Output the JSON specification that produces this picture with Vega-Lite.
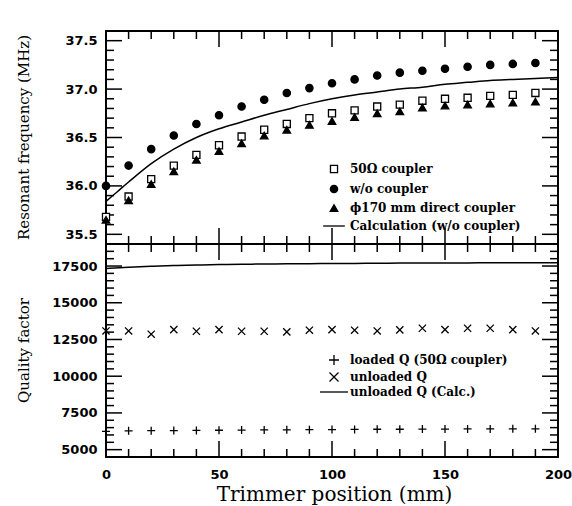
{
  "$schema": "https://vega.github.io/schema/vega-lite/v6.json",
  "padding": {"left": 14, "top": 30, "right": 12, "bottom": 5},
  "background": "white",
  "datasets": {
    "freq": [
      {"pos":0,"series":"50Ω coupler","f":35.68},{"pos":10,"series":"50Ω coupler","f":35.89},{"pos":20,"series":"50Ω coupler","f":36.07},{"pos":30,"series":"50Ω coupler","f":36.21},{"pos":40,"series":"50Ω coupler","f":36.32},{"pos":50,"series":"50Ω coupler","f":36.42},{"pos":60,"series":"50Ω coupler","f":36.51},{"pos":70,"series":"50Ω coupler","f":36.58},{"pos":80,"series":"50Ω coupler","f":36.64},{"pos":90,"series":"50Ω coupler","f":36.70},{"pos":100,"series":"50Ω coupler","f":36.75},{"pos":110,"series":"50Ω coupler","f":36.78},{"pos":120,"series":"50Ω coupler","f":36.82},{"pos":130,"series":"50Ω coupler","f":36.84},{"pos":140,"series":"50Ω coupler","f":36.88},{"pos":150,"series":"50Ω coupler","f":36.90},{"pos":160,"series":"50Ω coupler","f":36.91},{"pos":170,"series":"50Ω coupler","f":36.93},{"pos":180,"series":"50Ω coupler","f":36.94},{"pos":190,"series":"50Ω coupler","f":36.96},
      {"pos":0,"series":"w/o coupler","f":36.00},{"pos":10,"series":"w/o coupler","f":36.21},{"pos":20,"series":"w/o coupler","f":36.38},{"pos":30,"series":"w/o coupler","f":36.52},{"pos":40,"series":"w/o coupler","f":36.64},{"pos":50,"series":"w/o coupler","f":36.73},{"pos":60,"series":"w/o coupler","f":36.82},{"pos":70,"series":"w/o coupler","f":36.89},{"pos":80,"series":"w/o coupler","f":36.96},{"pos":90,"series":"w/o coupler","f":37.01},{"pos":100,"series":"w/o coupler","f":37.06},{"pos":110,"series":"w/o coupler","f":37.10},{"pos":120,"series":"w/o coupler","f":37.14},{"pos":130,"series":"w/o coupler","f":37.17},{"pos":140,"series":"w/o coupler","f":37.19},{"pos":150,"series":"w/o coupler","f":37.21},{"pos":160,"series":"w/o coupler","f":37.23},{"pos":170,"series":"w/o coupler","f":37.25},{"pos":180,"series":"w/o coupler","f":37.26},{"pos":190,"series":"w/o coupler","f":37.27},
      {"pos":0,"series":"ϕ170 mm direct coupler","f":35.65},{"pos":10,"series":"ϕ170 mm direct coupler","f":35.85},{"pos":20,"series":"ϕ170 mm direct coupler","f":36.02},{"pos":30,"series":"ϕ170 mm direct coupler","f":36.15},{"pos":40,"series":"ϕ170 mm direct coupler","f":36.27},{"pos":50,"series":"ϕ170 mm direct coupler","f":36.36},{"pos":60,"series":"ϕ170 mm direct coupler","f":36.44},{"pos":70,"series":"ϕ170 mm direct coupler","f":36.52},{"pos":80,"series":"ϕ170 mm direct coupler","f":36.58},{"pos":90,"series":"ϕ170 mm direct coupler","f":36.63},{"pos":100,"series":"ϕ170 mm direct coupler","f":36.67},{"pos":110,"series":"ϕ170 mm direct coupler","f":36.71},{"pos":120,"series":"ϕ170 mm direct coupler","f":36.75},{"pos":130,"series":"ϕ170 mm direct coupler","f":36.77},{"pos":140,"series":"ϕ170 mm direct coupler","f":36.81},{"pos":150,"series":"ϕ170 mm direct coupler","f":36.83},{"pos":160,"series":"ϕ170 mm direct coupler","f":36.84},{"pos":170,"series":"ϕ170 mm direct coupler","f":36.85},{"pos":180,"series":"ϕ170 mm direct coupler","f":36.86},{"pos":190,"series":"ϕ170 mm direct coupler","f":36.87}
    ],
    "calc_f": [
      {"pos":0,"f":35.84},{"pos":5,"f":35.94},{"pos":10,"f":36.04},{"pos":20,"f":36.23},{"pos":30,"f":36.38},{"pos":40,"f":36.50},{"pos":50,"f":36.59},{"pos":60,"f":36.66},{"pos":70,"f":36.73},{"pos":80,"f":36.79},{"pos":90,"f":36.85},{"pos":100,"f":36.90},{"pos":110,"f":36.94},{"pos":120,"f":36.97},{"pos":130,"f":37.00},{"pos":140,"f":37.02},{"pos":150,"f":37.05},{"pos":160,"f":37.07},{"pos":170,"f":37.09},{"pos":180,"f":37.10},{"pos":190,"f":37.11},{"pos":200,"f":37.12}
    ],
    "q": [
      {"pos":0,"series":"loaded Q (50Ω coupler)","q":6250},{"pos":10,"series":"loaded Q (50Ω coupler)","q":6280},{"pos":20,"series":"loaded Q (50Ω coupler)","q":6290},{"pos":30,"series":"loaded Q (50Ω coupler)","q":6300},{"pos":40,"series":"loaded Q (50Ω coupler)","q":6310},{"pos":50,"series":"loaded Q (50Ω coupler)","q":6320},{"pos":60,"series":"loaded Q (50Ω coupler)","q":6330},{"pos":70,"series":"loaded Q (50Ω coupler)","q":6340},{"pos":80,"series":"loaded Q (50Ω coupler)","q":6350},{"pos":90,"series":"loaded Q (50Ω coupler)","q":6360},{"pos":100,"series":"loaded Q (50Ω coupler)","q":6370},{"pos":110,"series":"loaded Q (50Ω coupler)","q":6380},{"pos":120,"series":"loaded Q (50Ω coupler)","q":6390},{"pos":130,"series":"loaded Q (50Ω coupler)","q":6390},{"pos":140,"series":"loaded Q (50Ω coupler)","q":6400},{"pos":150,"series":"loaded Q (50Ω coupler)","q":6400},{"pos":160,"series":"loaded Q (50Ω coupler)","q":6410},{"pos":170,"series":"loaded Q (50Ω coupler)","q":6410},{"pos":180,"series":"loaded Q (50Ω coupler)","q":6420},{"pos":190,"series":"loaded Q (50Ω coupler)","q":6420},
      {"pos":0,"series":"unloaded Q","q":13080},{"pos":10,"series":"unloaded Q","q":13080},{"pos":20,"series":"unloaded Q","q":12860},{"pos":30,"series":"unloaded Q","q":13170},{"pos":40,"series":"unloaded Q","q":13060},{"pos":50,"series":"unloaded Q","q":13170},{"pos":60,"series":"unloaded Q","q":13060},{"pos":70,"series":"unloaded Q","q":13060},{"pos":80,"series":"unloaded Q","q":13020},{"pos":90,"series":"unloaded Q","q":13130},{"pos":100,"series":"unloaded Q","q":13170},{"pos":110,"series":"unloaded Q","q":13130},{"pos":120,"series":"unloaded Q","q":13080},{"pos":130,"series":"unloaded Q","q":13150},{"pos":140,"series":"unloaded Q","q":13265},{"pos":150,"series":"unloaded Q","q":13170},{"pos":160,"series":"unloaded Q","q":13265},{"pos":170,"series":"unloaded Q","q":13265},{"pos":180,"series":"unloaded Q","q":13170},{"pos":190,"series":"unloaded Q","q":13080}
    ],
    "calc_q": [
      {"pos":0,"q":17340},{"pos":10,"q":17420},{"pos":20,"q":17480},{"pos":30,"q":17530},{"pos":40,"q":17570},{"pos":50,"q":17600},{"pos":60,"q":17620},{"pos":70,"q":17640},{"pos":80,"q":17650},{"pos":90,"q":17660},{"pos":100,"q":17670},{"pos":110,"q":17680},{"pos":120,"q":17690},{"pos":130,"q":17700},{"pos":140,"q":17705},{"pos":150,"q":17710},{"pos":160,"q":17715},{"pos":170,"q":17718},{"pos":180,"q":17720},{"pos":190,"q":17720},{"pos":200,"q":17720}
    ],
    "xmaj": [{"v":50},{"v":100},{"v":150}],
    "xmin": [{"v":10},{"v":20},{"v":30},{"v":40},{"v":60},{"v":70},{"v":80},{"v":90},{"v":110},{"v":120},{"v":130},{"v":140},{"v":160},{"v":170},{"v":180},{"v":190}],
    "fmaj": [{"v":35.5},{"v":36.0},{"v":36.5},{"v":37.0},{"v":37.5}],
    "fmin": [{"v":35.6},{"v":35.7},{"v":35.8},{"v":35.9},{"v":36.1},{"v":36.2},{"v":36.3},{"v":36.4},{"v":36.6},{"v":36.7},{"v":36.8},{"v":36.9},{"v":37.1},{"v":37.2},{"v":37.3},{"v":37.4}],
    "qmaj": [{"v":5000},{"v":7500},{"v":10000},{"v":12500},{"v":15000},{"v":17500}],
    "qmin": [{"v":5500},{"v":6000},{"v":6500},{"v":7000},{"v":8000},{"v":8500},{"v":9000},{"v":9500},{"v":10500},{"v":11000},{"v":11500},{"v":12000},{"v":13000},{"v":13500},{"v":14000},{"v":14500},{"v":15500},{"v":16000},{"v":16500},{"v":17000},{"v":18000},{"v":18500}]
  },
  "vconcat": [
    {
      "width": 452,
      "height": 213,
      "resolve": {"axis": {"x": "independent", "y": "independent"}},
      "layer": [
        {
          "data": {"name": "calc_f"},
          "mark": {"type": "line", "color": "black", "strokeWidth": 1.5, "interpolate": "monotone"},
          "encoding": {
            "x": {"field": "pos", "type": "quantitative", "scale": {"domain": [0, 200], "nice": false, "zero": false}, "axis": null},
            "y": {"field": "f", "type": "quantitative", "scale": {"domain": [35.4, 37.6], "nice": false, "zero": false},
              "axis": {"orient": "left", "values": [35.5,36.0,36.5,37.0,37.5], "format": ".1f",
                "labelPadding": 9, "labelOverlap": false, "labelFlush": false,
                "title": "Resonant frequency (MHz)", "titleFontSize": 15, "titleX": -83, "titleY": 106, "titleAngle": -90, "titleAlign": "center", "titleBaseline": "middle"}}
          }
        },
        {
          "mark": {"type": "rule", "color": "black", "strokeWidth": 1.5, "strokeDash": [9, 5]},
          "encoding": {
            "x": {"datum": 0, "type": "quantitative", "axis": null},
            "x2": {"datum": 200},
            "y": {"datum": 36.5, "type": "quantitative", "axis": null}
          }
        },
        {"data": {"name": "xmaj"}, "mark": {"type": "tick", "orient": "vertical", "size": 16, "thickness": 1.5, "color": "black", "opacity": 1, "yOffset": -8},
          "encoding": {"x": {"field": "v", "type": "quantitative", "axis": null}, "y": {"datum": 35.4, "type": "quantitative", "axis": null}}},
        {"data": {"name": "xmin"}, "mark": {"type": "tick", "orient": "vertical", "size": 8, "thickness": 1.5, "color": "black", "opacity": 1, "yOffset": -4},
          "encoding": {"x": {"field": "v", "type": "quantitative", "axis": null}, "y": {"datum": 35.4, "type": "quantitative", "axis": null}}},
        {"data": {"name": "xmaj"}, "mark": {"type": "tick", "orient": "vertical", "size": 16, "thickness": 1.5, "color": "black", "opacity": 1, "yOffset": 8},
          "encoding": {"x": {"field": "v", "type": "quantitative", "axis": null}, "y": {"datum": 37.6, "type": "quantitative", "axis": null}}},
        {"data": {"name": "xmin"}, "mark": {"type": "tick", "orient": "vertical", "size": 8, "thickness": 1.5, "color": "black", "opacity": 1, "yOffset": 4},
          "encoding": {"x": {"field": "v", "type": "quantitative", "axis": null}, "y": {"datum": 37.6, "type": "quantitative", "axis": null}}},
        {"data": {"name": "fmaj"}, "mark": {"type": "tick", "orient": "horizontal", "size": 16, "thickness": 1.5, "color": "black", "opacity": 1, "xOffset": 8},
          "encoding": {"y": {"field": "v", "type": "quantitative", "axis": null}, "x": {"datum": 0, "type": "quantitative", "axis": null}}},
        {"data": {"name": "fmin"}, "mark": {"type": "tick", "orient": "horizontal", "size": 8, "thickness": 1.5, "color": "black", "opacity": 1, "xOffset": 4},
          "encoding": {"y": {"field": "v", "type": "quantitative", "axis": null}, "x": {"datum": 0, "type": "quantitative", "axis": null}}},
        {"data": {"name": "fmaj"}, "mark": {"type": "tick", "orient": "horizontal", "size": 16, "thickness": 1.5, "color": "black", "opacity": 1, "xOffset": -8},
          "encoding": {"y": {"field": "v", "type": "quantitative", "axis": null}, "x": {"datum": 200, "type": "quantitative", "axis": null}}},
        {"data": {"name": "fmin"}, "mark": {"type": "tick", "orient": "horizontal", "size": 8, "thickness": 1.5, "color": "black", "opacity": 1, "xOffset": -4},
          "encoding": {"y": {"field": "v", "type": "quantitative", "axis": null}, "x": {"datum": 200, "type": "quantitative", "axis": null}}},
        {
          "data": {"name": "freq"},
          "transform": [{"filter": "datum.series === '50Ω coupler'"}],
          "mark": {"type": "point", "filled": false, "stroke": "black", "strokeWidth": 1.3, "opacity": 1},
          "encoding": {
            "x": {"field": "pos", "type": "quantitative", "axis": null},
            "y": {"field": "f", "type": "quantitative", "axis": null},
            "shape": {"field": "series", "type": "nominal",
              "scale": {"domain": ["50Ω coupler", "w/o coupler", "ϕ170 mm direct coupler", "Calculation (w/o coupler)"], "range": ["square", "circle", "triangle-up", "M-2.8,0H2.8"]},
              "legend": {"title": null, "orient": "none", "legendX": 222, "legendY": 132, "rowPadding": 6,
                "encode": {"symbols": {"update": {"stroke": {"value": "black"}, "strokeWidth": {"value": 1.3}}}}}},
            "fill": {"field": "series", "type": "nominal",
              "scale": {"domain": ["50Ω coupler", "w/o coupler", "ϕ170 mm direct coupler", "Calculation (w/o coupler)"], "range": ["white", "black", "black", "black"]},
              "legend": {"title": null, "orient": "none", "legendX": 222, "legendY": 132, "rowPadding": 6,
                "encode": {"symbols": {"update": {"stroke": {"value": "black"}, "strokeWidth": {"value": 1.3}}}}}},
            "size": {"field": "series", "type": "nominal",
              "scale": {"domain": ["50Ω coupler", "w/o coupler", "ϕ170 mm direct coupler", "Calculation (w/o coupler)"], "range": [50, 60, 80, 64]},
              "legend": {"title": null, "orient": "none", "legendX": 222, "legendY": 132, "rowPadding": 6,
                "encode": {"symbols": {"update": {"stroke": {"value": "black"}, "strokeWidth": {"value": 1.3}}}}}}
          }
        },
        {
          "data": {"name": "freq"},
          "transform": [{"filter": "datum.series !== '50Ω coupler'"}],
          "mark": {"type": "point", "filled": false, "stroke": "black", "strokeWidth": 1.3, "opacity": 1},
          "encoding": {
            "x": {"field": "pos", "type": "quantitative", "axis": null},
            "y": {"field": "f", "type": "quantitative", "axis": null},
            "shape": {"field": "series", "type": "nominal"},
            "fill": {"field": "series", "type": "nominal"},
            "size": {"field": "series", "type": "nominal"}
          }
        }
      ]
    },
    {
      "width": 452,
      "height": 213,
      "resolve": {"axis": {"x": "independent", "y": "independent"}},
      "layer": [
        {
          "data": {"name": "calc_q"},
          "mark": {"type": "line", "color": "black", "strokeWidth": 1.5, "interpolate": "monotone"},
          "encoding": {
            "x": {"field": "pos", "type": "quantitative", "scale": {"domain": [0, 200], "nice": false, "zero": false},
              "axis": {"orient": "bottom", "values": [0,50,100,150,200],
                "labelPadding": 11, "labelOverlap": false, "labelFlush": false,
                "title": "Trimmer position (mm)", "titleFontSize": 20, "titleX": 228, "titleY": 37, "titleAlign": "center", "titleBaseline": "middle"}},
            "y": {"field": "q", "type": "quantitative", "scale": {"domain": [4500, 19000], "nice": false, "zero": false},
              "axis": {"orient": "left", "values": [5000,7500,10000,12500,15000,17500], "format": "d",
                "labelPadding": 9, "labelOverlap": false, "labelFlush": false,
                "title": "Quality factor", "titleFontSize": 15, "titleX": -83, "titleY": 106, "titleAngle": -90, "titleAlign": "center", "titleBaseline": "middle"}}
          }
        },
        {"data": {"name": "xmaj"}, "mark": {"type": "tick", "orient": "vertical", "size": 16, "thickness": 1.5, "color": "black", "opacity": 1, "yOffset": -8},
          "encoding": {"x": {"field": "v", "type": "quantitative", "axis": null}, "y": {"datum": 4500, "type": "quantitative", "axis": null}}},
        {"data": {"name": "xmin"}, "mark": {"type": "tick", "orient": "vertical", "size": 8, "thickness": 1.5, "color": "black", "opacity": 1, "yOffset": -4},
          "encoding": {"x": {"field": "v", "type": "quantitative", "axis": null}, "y": {"datum": 4500, "type": "quantitative", "axis": null}}},
        {"data": {"name": "xmaj"}, "mark": {"type": "tick", "orient": "vertical", "size": 16, "thickness": 1.5, "color": "black", "opacity": 1, "yOffset": 8},
          "encoding": {"x": {"field": "v", "type": "quantitative", "axis": null}, "y": {"datum": 19000, "type": "quantitative", "axis": null}}},
        {"data": {"name": "xmin"}, "mark": {"type": "tick", "orient": "vertical", "size": 8, "thickness": 1.5, "color": "black", "opacity": 1, "yOffset": 4},
          "encoding": {"x": {"field": "v", "type": "quantitative", "axis": null}, "y": {"datum": 19000, "type": "quantitative", "axis": null}}},
        {"data": {"name": "qmaj"}, "mark": {"type": "tick", "orient": "horizontal", "size": 16, "thickness": 1.5, "color": "black", "opacity": 1, "xOffset": 8},
          "encoding": {"y": {"field": "v", "type": "quantitative", "axis": null}, "x": {"datum": 0, "type": "quantitative", "axis": null}}},
        {"data": {"name": "qmin"}, "mark": {"type": "tick", "orient": "horizontal", "size": 8, "thickness": 1.5, "color": "black", "opacity": 1, "xOffset": 4},
          "encoding": {"y": {"field": "v", "type": "quantitative", "axis": null}, "x": {"datum": 0, "type": "quantitative", "axis": null}}},
        {"data": {"name": "qmaj"}, "mark": {"type": "tick", "orient": "horizontal", "size": 16, "thickness": 1.5, "color": "black", "opacity": 1, "xOffset": -8},
          "encoding": {"y": {"field": "v", "type": "quantitative", "axis": null}, "x": {"datum": 200, "type": "quantitative", "axis": null}}},
        {"data": {"name": "qmin"}, "mark": {"type": "tick", "orient": "horizontal", "size": 8, "thickness": 1.5, "color": "black", "opacity": 1, "xOffset": -4},
          "encoding": {"y": {"field": "v", "type": "quantitative", "axis": null}, "x": {"datum": 200, "type": "quantitative", "axis": null}}},
        {
          "data": {"name": "q"},
          "mark": {"type": "point", "filled": false, "stroke": "black", "strokeWidth": 1.3, "size": 64, "opacity": 1},
          "encoding": {
            "x": {"field": "pos", "type": "quantitative", "axis": null},
            "y": {"field": "q", "type": "quantitative", "axis": null},
            "shape": {"field": "series", "type": "nominal",
              "scale": {"domain": ["loaded Q (50Ω coupler)", "unloaded Q", "unloaded Q (Calc.)"], "range": ["M-1,0H1M0,-1V1", "M-0.9,-0.9L0.9,0.9M-0.9,0.9L0.9,-0.9", "M-2.8,0H2.8"]},
              "legend": {"title": null, "orient": "none", "legendX": 222, "legendY": 110, "rowPadding": 1, "symbolFillColor": "transparent"}}
          }
        }
      ]
    }
  ],
  "spacing": 0,
  "bounds": "flush",
  "resolve": {
    "scale": {"shape": "independent", "fill": "independent", "size": "independent"},
    "legend": {"shape": "independent", "fill": "independent", "size": "independent"}
  },
  "config": {
    "view": {"stroke": "black", "strokeWidth": 2},
    "axis": {"domain": false, "ticks": false, "grid": false,
      "labelColor": "black", "titleColor": "black", "labelFont": "DejaVu Sans", "labelFontWeight": "bold", "labelFontSize": 13,
      "titleFont": "DejaVu Serif", "titleFontWeight": "normal"},
    "legend": {"labelFont": "DejaVu Serif", "labelFontWeight": "bold", "labelFontSize": 12, "labelColor": "black", "labelLimit": 0,
      "symbolStrokeColor": "black", "symbolStrokeWidth": 1.3, "labelOffset": 10, "padding": 0, "symbolOpacity": 1}
  }
}
